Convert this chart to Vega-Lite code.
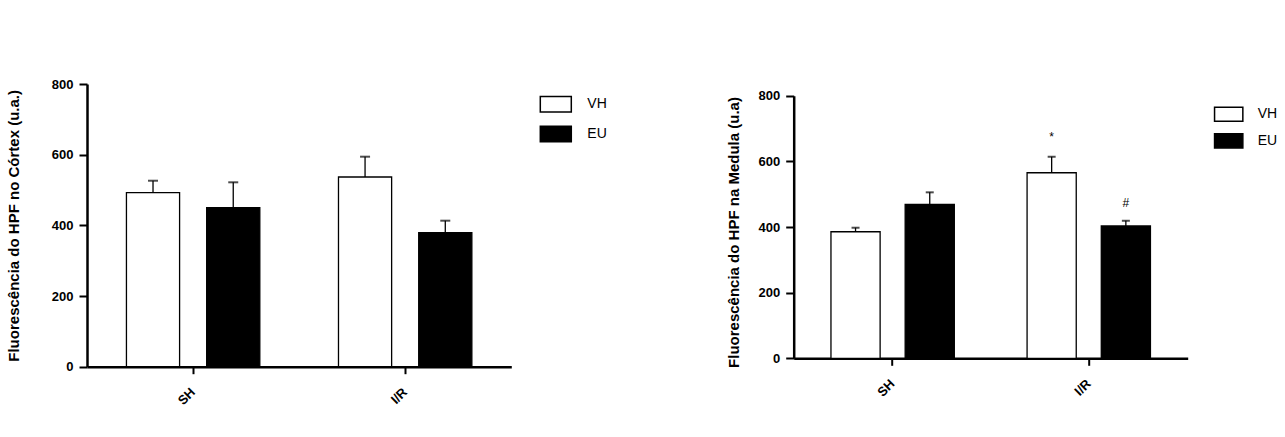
{
  "$schema": "https://vega.github.io/schema/vega-lite/v6.json",
  "padding": {"left": 6, "top": 78, "right": 5, "bottom": 5},
  "bounds": "flush",
  "spacing": 281.7,
  "config": {
    "view": {"stroke": null},
    "font": "Liberation Sans",
    "axis": {"domainColor": "black", "domainWidth": 2.5, "tickColor": "black", "tickWidth": 2, "labelColor": "black", "labelFont": "Liberation Sans", "labelFontWeight": "bold", "labelFontSize": 13, "titleColor": "black", "titleFont": "Liberation Sans", "titleFontWeight": "bold", "titleFontSize": 15, "grid": false},
    "legend": {"labelFont": "Liberation Sans", "labelFontSize": 14, "labelColor": "black", "symbolStrokeColor": "black", "symbolStrokeWidth": 1.5, "padding": 0}
  },
  "datasets": {
    "cortex": [
      {"grupo": "SH", "tratamento": "VH", "media": 492.4, "superior": 526.3},
      {"grupo": "SH", "tratamento": "EU", "media": 450.0, "superior": 521.8},
      {"grupo": "I/R", "tratamento": "VH", "media": 536.8, "superior": 594.3},
      {"grupo": "I/R", "tratamento": "EU", "media": 379.2, "superior": 413.2}
    ],
    "medula": [
      {"grupo": "SH", "tratamento": "VH", "media": 385.6, "superior": 397.8, "sig": "", "sigY": 0},
      {"grupo": "SH", "tratamento": "EU", "media": 469.0, "superior": 505.6, "sig": "", "sigY": 0},
      {"grupo": "I/R", "tratamento": "VH", "media": 565.3, "superior": 614.0, "sig": "*", "sigY": 675},
      {"grupo": "I/R", "tratamento": "EU", "media": 403.0, "superior": 419.0, "sig": "#", "sigY": 474}
    ]
  },
  "hconcat": [
    {
      "width": 424.3,
      "height": 282.7,
      "data": {"name": "cortex"},
      "encoding": {
        "x": {"field": "grupo", "type": "nominal", "sort": ["SH", "I/R"], "scale": {"paddingInner": 0.371, "paddingOuter": 0.186}, "axis": {"title": null, "labelAngle": -45, "labelAlign": "right", "labelBaseline": "middle", "tickSize": 7, "labelPadding": 16}},
        "xOffset": {"field": "tratamento", "type": "nominal", "sort": ["VH", "EU"], "scale": {"paddingInner": 0.3375}},
        "y": {"field": "media", "type": "quantitative", "title": "Fluorescência do HPF no Córtex (u.a.)", "scale": {"domain": [0, 800], "nice": false}, "axis": {"values": [0, 200, 400, 600, 800], "tickSize": 8, "labelPadding": 6, "titleX": -73.7, "titleY": 141.35, "titleAngle": -90, "titleBaseline": "middle", "titleAlign": "center"}}
      },
      "layer": [
        {
          "mark": {"type": "bar", "stroke": "black", "strokeWidth": 1.3},
          "encoding": {
            "fill": {"field": "tratamento", "type": "nominal", "sort": ["VH", "EU"], "scale": {"domain": ["VH", "EU"], "range": ["#ffffff", "#000000"]}, "legend": {"title": null, "orient": "none", "legendX": 452.3, "legendY": 3.8, "symbolType": "M-1,-0.5H1V0.5H-1Z", "symbolSize": 961, "rowPadding": 1.7, "labelOffset": 15}}
          }
        },
        {
          "mark": {"type": "rule", "color": "black", "strokeWidth": 1.3},
          "encoding": {"y2": {"field": "superior"}}
        },
        {
          "mark": {"type": "tick", "color": "black", "thickness": 2, "size": 10},
          "encoding": {"y": {"field": "superior", "type": "quantitative", "title": "Fluorescência do HPF no Córtex (u.a.)"}}
        }
      ]
    },
    {
      "width": 394,
      "height": 274.3,
      "data": {"name": "medula"},
      "encoding": {
        "x": {"field": "grupo", "type": "nominal", "sort": ["SH", "I/R"], "scale": {"paddingInner": 0.371, "paddingOuter": 0.19}, "axis": {"title": null, "labelAngle": -45, "labelAlign": "right", "labelBaseline": "middle", "tickSize": 7, "labelPadding": 16}},
        "xOffset": {"field": "tratamento", "type": "nominal", "sort": ["VH", "EU"], "scale": {"paddingInner": 0.3375}},
        "y": {"field": "media", "type": "quantitative", "title": "Fluorescência do HPF na Medula (u.a)", "scale": {"domain": [0, 800], "nice": false, "range": [274.3, 11.7]}, "axis": {"values": [0, 200, 400, 600, 800], "tickSize": 8, "labelPadding": 6, "titleX": -60.7, "titleY": 148, "titleAngle": -90, "titleBaseline": "middle", "titleAlign": "center"}}
      },
      "layer": [
        {
          "mark": {"type": "bar", "stroke": "black", "strokeWidth": 1.3},
          "encoding": {
            "fill": {"field": "tratamento", "type": "nominal", "sort": ["VH", "EU"], "scale": {"domain": ["VH", "EU"], "range": ["#ffffff", "#000000"]}, "legend": {"title": null, "orient": "none", "legendX": 420, "legendY": 15.2, "symbolType": "M-1,-0.5H1V0.5H-1Z", "symbolSize": 800, "rowPadding": 0.7, "labelOffset": 14}}
          }
        },
        {
          "mark": {"type": "rule", "color": "black", "strokeWidth": 1.3},
          "encoding": {"y2": {"field": "superior"}}
        },
        {
          "mark": {"type": "tick", "color": "black", "thickness": 2, "size": 8},
          "encoding": {"y": {"field": "superior", "type": "quantitative", "title": "Fluorescência do HPF na Medula (u.a)"}}
        },
        {
          "transform": [{"filter": "datum.sig != ''"}],
          "mark": {"type": "text", "font": "Liberation Sans", "fontSize": 12, "color": "black", "baseline": "middle", "align": "center"},
          "encoding": {"y": {"field": "sigY", "type": "quantitative", "title": "Fluorescência do HPF na Medula (u.a)"}, "text": {"field": "sig"}}
        }
      ]
    }
  ],
  "resolve": {
    "scale": {"x": "independent", "y": "independent", "xOffset": "independent", "fill": "independent"},
    "legend": {"fill": "independent"}
  }
}
